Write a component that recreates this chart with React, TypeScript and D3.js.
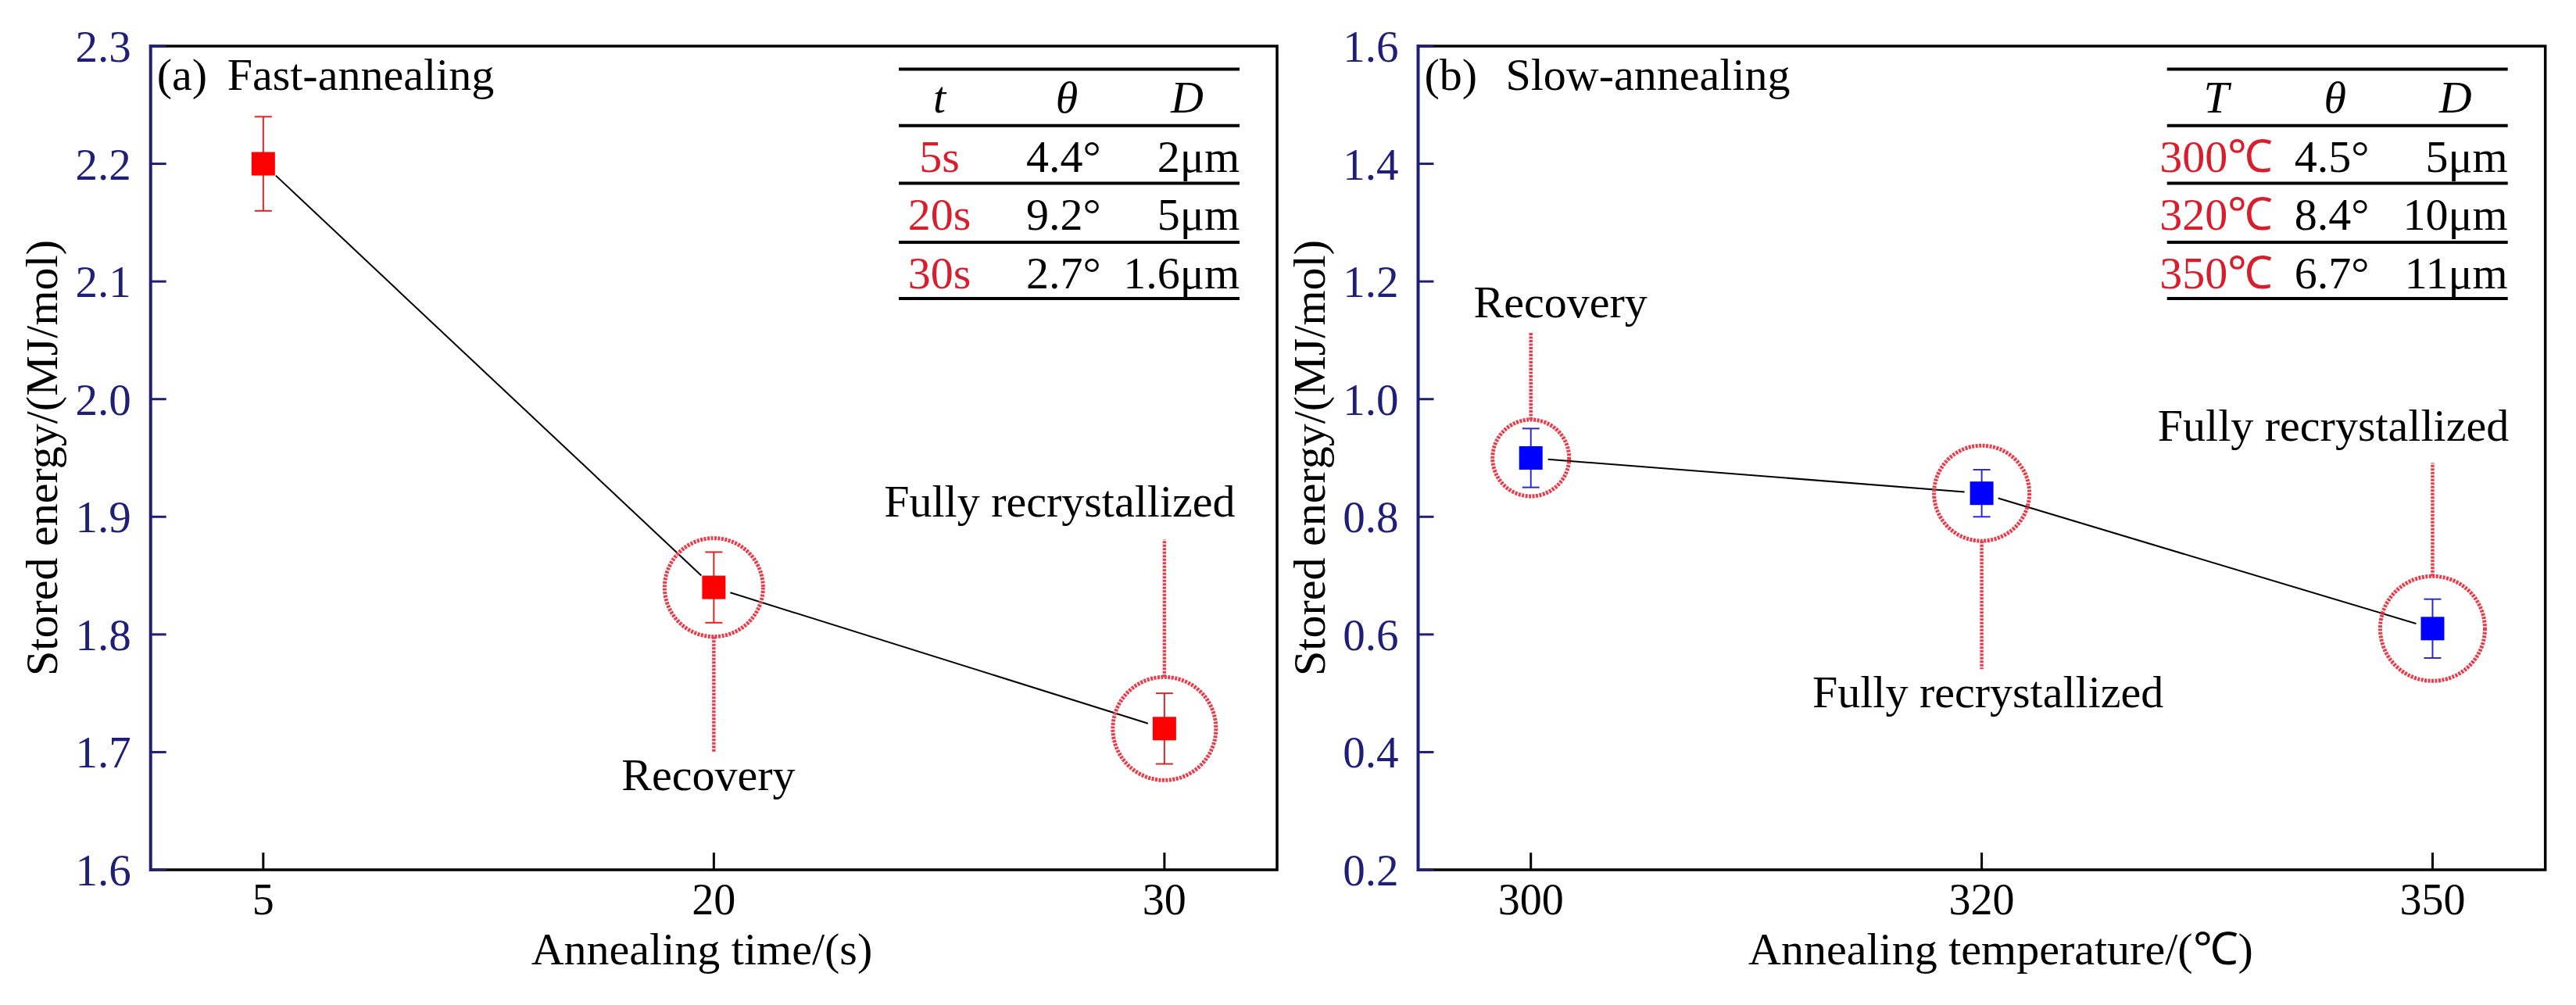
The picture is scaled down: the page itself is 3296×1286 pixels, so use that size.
import { line, scaleLinear, scalePoint } from "d3";

// panel (a): fast annealing
const timeLabels = ["5", "20", "30"];
const fastEnergy = [2.2, 1.84, 1.72];
const fastError = [0.04, 0.03, 0.03];
const fastTicks = [1.6, 1.7, 1.8, 1.9, 2.0, 2.1, 2.2, 2.3];
const fastHead = ["t", "θ", "D"];
const fastRows = [
  ["5s", "4.4°", "2μm"],
  ["20s", "9.2°", "5μm"],
  ["30s", "2.7°", "1.6μm"],
];

// panel (b): slow annealing
const tempLabels = ["300", "320", "350"];
const slowEnergy = [0.9, 0.84, 0.61];
const slowError = [0.05, 0.04, 0.05];
const slowTicks = [0.2, 0.4, 0.6, 0.8, 1.0, 1.2, 1.4, 1.6];
const slowHead = ["T", "θ", "D"];
const slowRows = [
  ["300℃", "4.5°", "5μm"],
  ["320℃", "8.4°", "10μm"],
  ["350℃", "6.7°", "11μm"],
];

const FONT = "'Liberation Serif', 'Times New Roman', serif";
const NAVY = "#1f1f78";
const DOT = "#ec3a48";

interface Note {
  index: number;
  r: number;
  reach: number; // end of dotted leader, relative to point
  text: string;
  dx: number;
  dy: number;
}

interface Props {
  left: number;
  right: number;
  labels: string[];
  values: number[];
  errors: number[];
  ticks: number[];
  color: string;
  barColor: string;
  tag: string;
  title: string;
  titleDx: number;
  xTitle: string;
  xTitleX: number;
  head: string[];
  rows: string[][];
  firstCol: number;
  notes: Note[];
}

const top = 59;
const bottom = 1113;

function Panel(p: Props) {
  const x = scalePoint(p.labels, [p.left, p.right]).padding(0.25);
  const y = scaleLinear([p.ticks[0], p.ticks[p.ticks.length - 1]], [bottom, top]);
  const pts = p.values.map((v, i) => [x(p.labels[i])!, y(v)] as [number, number]);
  const seg = line();
  const gap = 22;

  const tabR = p.right - 48;
  const tabL = tabR - 436;
  const rules = [88.6, 160.8, 234.6, 310, 382];

  return (
    <g fontFamily={FONT}>
      {/* connecting line, with gaps at the symbols */}
      {pts.slice(1).map((b, i) => {
        const a = pts[i];
        const len = Math.hypot(b[0] - a[0], b[1] - a[1]);
        const ux = (b[0] - a[0]) / len;
        const uy = (b[1] - a[1]) / len;
        return (
          <path
            key={i}
            d={seg([
              [a[0] + ux * gap, a[1] + uy * gap],
              [b[0] - ux * gap, b[1] - uy * gap],
            ])!}
            stroke="#000"
            strokeWidth={2}
            fill="none"
          />
        );
      })}

      {/* annotations */}
      {p.notes.map((n) => {
        const [cx, cy] = pts[n.index];
        const start = n.reach > 0 ? cy + n.r : cy - n.r;
        return (
          <g key={n.index}>
            <circle cx={cx} cy={cy} r={n.r} fill="none" stroke={DOT} strokeWidth={5} strokeDasharray="3 1.5" />
            <line x1={cx} x2={cx} y1={start} y2={cy + n.reach} stroke={DOT} strokeWidth={4.5} strokeDasharray="3 1.5" />
            <text x={cx + n.dx} y={cy + n.dy} fontSize={58} textAnchor="middle">
              {n.text}
            </text>
          </g>
        );
      })}

      {/* error bars and symbols */}
      {pts.map(([cx, cy], i) => (
        <g key={i}>
          <line x1={cx} x2={cx} y1={y(p.values[i] + p.errors[i])} y2={y(p.values[i] - p.errors[i])} stroke={p.barColor} strokeWidth={2} />
          <line x1={cx - 11} x2={cx + 11} y1={y(p.values[i] + p.errors[i])} y2={y(p.values[i] + p.errors[i])} stroke={p.barColor} strokeWidth={2} />
          <line x1={cx - 11} x2={cx + 11} y1={y(p.values[i] - p.errors[i])} y2={y(p.values[i] - p.errors[i])} stroke={p.barColor} strokeWidth={2} />
          <rect x={cx - 15} y={cy - 15} width={30} height={30} fill={p.color} />
        </g>
      ))}

      {/* frame */}
      <path d={`M${p.left},${top}H${p.right}V${bottom}H${p.left}`} fill="none" stroke="#000" strokeWidth={3.5} />
      <line x1={p.left} x2={p.left} y1={top - 2} y2={bottom + 2} stroke={NAVY} strokeWidth={4} />

      {/* y axis */}
      {p.ticks.map((t) => (
        <g key={t}>
          <line x1={p.left} x2={p.left + 20} y1={y(t)} y2={y(t)} stroke={NAVY} strokeWidth={3} />
          <text x={p.left - 25} y={y(t)} dy="0.35em" textAnchor="end" fontSize={57} fill={NAVY}>
            {t.toFixed(1)}
          </text>
        </g>
      ))}
      <text transform={`translate(${p.left - 120},${(top + bottom) / 2}) rotate(-90)`} textAnchor="middle" fontSize={58}>
        Stored energy/(MJ/mol)
      </text>

      {/* x axis */}
      {p.labels.map((l) => (
        <g key={l}>
          <line x1={x(l)} x2={x(l)} y1={bottom} y2={bottom - 22} stroke="#000" strokeWidth={3} />
          <text x={x(l)} y={bottom + 57} textAnchor="middle" fontSize={56}>
            {l}
          </text>
        </g>
      ))}
      <text x={p.xTitleX} y={bottom + 121} textAnchor="middle" fontSize={58}>
        {p.xTitle}
      </text>

      {/* panel tag */}
      <text x={p.left + 8} y={115} fontSize={58}>
        {p.tag}
      </text>
      <text x={p.left + p.titleDx} y={115} fontSize={58}>
        {p.title}
      </text>

      {/* inset table */}
      {rules.map((r) => (
        <line key={r} x1={tabL} x2={tabR} y1={r} y2={r} stroke="#000" strokeWidth={4} />
      ))}
      <g fontSize={58} fontStyle="italic">
        <text x={tabL + p.firstCol} y={rules[0] + 55} textAnchor="middle">
          {p.head[0]}
        </text>
        <text x={tabL + 215} y={rules[0] + 55} textAnchor="middle">
          {p.head[1]}
        </text>
        <text x={tabL + 369} y={rules[0] + 55} textAnchor="middle">
          {p.head[2]}
        </text>
      </g>
      {p.rows.map((row, i) => (
        <g key={i} fontSize={58}>
          <text x={tabL + p.firstCol} y={rules[i + 1] + 59} textAnchor="middle" fill="#d81e2c">
            {row[0]}
          </text>
          <text x={tabL + 163} y={rules[i + 1] + 59}>
            {row[1]}
          </text>
          <text x={tabR} y={rules[i + 1] + 59} textAnchor="end">
            {row[2]}
          </text>
        </g>
      ))}
    </g>
  );
}

export default function App() {
  return (
    <svg width={3296} height={1286} style={{ position: "absolute", left: 0, top: 0, background: "#fff" }}>
      <Panel
        left={192.7}
        right={1634}
        labels={timeLabels}
        values={fastEnergy}
        errors={fastError}
        ticks={fastTicks}
        color="#ff0000"
        barColor="#e02424"
        tag="(a)"
        title="Fast-annealing"
        titleDx={98}
        xTitle="Annealing time/(s)"
        xTitleX={898}
        head={fastHead}
        rows={fastRows}
        firstCol={52}
        notes={[
          { index: 1, r: 63, reach: 210, text: "Recovery", dx: -7, dy: 259 },
          { index: 2, r: 66, reach: -242, text: "Fully recrystallized", dx: -134, dy: -271 },
        ]}
      />
      <Panel
        left={1814.5}
        right={3256.7}
        labels={tempLabels}
        values={slowEnergy}
        errors={slowError}
        ticks={slowTicks}
        color="#0000ff"
        barColor="#2a2ad0"
        tag="(b)"
        title="Slow-annealing"
        titleDx={112}
        xTitle="Annealing temperature/(℃)"
        xTitleX={2560}
        head={slowHead}
        rows={slowRows}
        firstCol={63}
        notes={[
          { index: 0, r: 49, reach: -160, text: "Recovery", dx: 38, dy: -180 },
          { index: 1, r: 61, reach: 225, text: "Fully recrystallized", dx: 8, dy: 274 },
          { index: 2, r: 67, reach: -212, text: "Fully recrystallized", dx: -127, dy: -240 },
        ]}
      />
    </svg>
  );
}
